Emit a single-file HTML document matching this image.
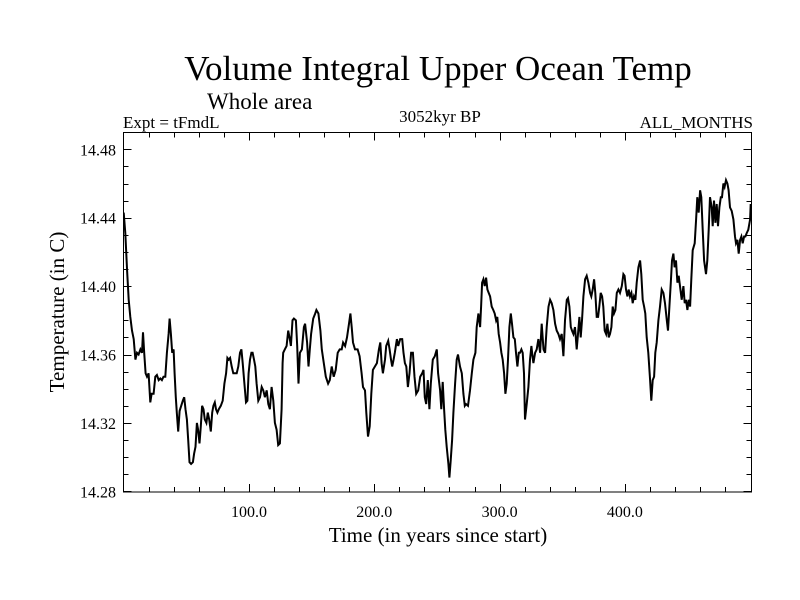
<!DOCTYPE html>
<html><head><meta charset="utf-8"><style>
body{margin:0;background:#fff;}
svg{display:block;font-family:"Liberation Serif",serif;}
</style></head><body>
<svg id="chart" width="800" height="600">
<text x="438" y="80" font-size="35" text-anchor="middle">Volume Integral Upper Ocean Temp</text>
<text x="207" y="109" font-size="23">Whole area</text>
<text x="123" y="128" font-size="17">Expt = tFmdL</text>
<text x="440" y="122" font-size="17" text-anchor="middle">3052kyr BP</text>
<text x="753" y="128" font-size="17" text-anchor="end">ALL_MONTHS</text>
<text x="438" y="542" font-size="21" text-anchor="middle">Time (in years since start)</text>
<text transform="translate(64,312) rotate(-90)" font-size="21" text-anchor="middle">Temperature (in C)</text>
<g id="ticks"></g>
<clipPath id="pc"><rect x="123.5" y="132.5" width="628" height="360"/></clipPath>
<path id="line" fill="none" stroke="#000" stroke-width="2" clip-path="url(#pc)"/>
<rect x="123.5" y="132.5" width="628" height="359.5" fill="none" stroke="#000" stroke-width="1"/>
</svg>
<script>
const years=[0.0,1.3,2.7,4.0,5.3,6.6,8.0,9.3,10.6,11.9,13.3,14.6,15.4,16.4,17.5,18.6,19.9,21.2,22.3,23.9,25.2,26.5,27.9,29.2,30.5,31.8,33.2,34.5,35.8,36.6,37.7,38.7,39.8,40.6,41.6,42.4,43.5,44.6,45.9,47.2,48.3,49.3,50.4,51.5,52.5,53.8,55.2,56.2,57.3,58.4,59.4,60.5,61.5,62.6,63.7,64.7,66.0,67.1,68.2,69.5,70.6,71.6,72.7,73.7,74.8,75.9,77.5,79.0,80.4,81.7,82.8,83.8,84.9,86.2,87.5,88.9,90.2,91.5,92.8,93.9,95.0,96.3,97.6,98.7,99.7,100.8,101.9,102.9,104.0,105.0,106.1,107.4,108.8,110.1,111.4,112.7,114.1,115.4,116.7,118.0,119.4,120.7,122.0,123.3,124.7,126.0,126.8,127.3,128.6,130.0,131.3,132.6,133.4,134.7,135.8,137.4,138.5,139.5,140.6,142.2,143.8,144.8,146.4,147.5,148.5,149.6,151.2,152.8,153.8,155.4,157.0,158.1,159.7,161.3,163.1,164.5,166.0,167.6,169.2,170.8,172.4,174.0,175.1,176.7,178.2,179.8,180.9,182.0,183.0,184.6,186.7,188.3,189.9,191.0,192.6,193.6,195.0,196.3,197.6,198.9,200.5,202.1,203.7,204.8,205.8,206.9,208.5,209.5,211.1,212.2,213.3,214.3,215.4,216.4,218.0,219.1,220.7,222.3,223.3,224.4,225.5,226.8,228.1,229.4,230.8,232.1,233.4,235.0,236.6,238.2,239.3,240.3,241.4,242.7,244.0,245.1,246.7,248.3,249.9,250.9,252.5,253.5,254.6,255.7,256.7,257.8,259.1,259.9,261.0,262.1,263.1,264.5,265.8,266.8,268.4,269.8,271.1,272.2,273.2,274.8,276.4,277.8,279.1,280.7,281.7,283.1,284.4,285.2,286.0,287.1,288.1,289.2,290.3,291.3,292.4,293.7,295.0,296.1,297.2,298.2,299.3,300.4,301.4,302.5,303.6,304.6,305.7,306.7,307.8,308.9,309.9,311.0,312.1,313.1,314.2,315.3,316.3,317.4,318.4,319.5,320.3,321.6,323.0,324.3,325.4,325.9,327.0,328.3,329.6,331.0,332.3,333.6,335.0,336.3,337.6,339.0,340.3,341.6,342.9,344.3,345.6,346.9,348.2,349.6,350.9,352.2,353.6,354.6,355.7,356.8,357.8,358.9,360.2,361.5,362.6,363.7,364.7,365.8,366.9,368.2,369.5,370.9,372.2,373.2,374.3,375.4,376.4,377.5,378.6,379.6,380.7,381.8,382.8,383.9,385.0,386.0,387.1,388.1,389.2,390.3,391.3,392.4,393.5,394.8,396.1,397.5,398.8,399.8,400.9,402.0,403.0,404.1,405.2,406.2,407.3,408.4,409.4,410.8,412.1,413.1,414.2,415.3,416.3,417.4,418.7,420.1,421.1,422.2,423.3,424.3,425.4,426.7,428.0,429.4,430.7,432.0,433.4,434.4,435.5,436.6,437.6,438.7,439.7,440.8,441.9,442.9,444.0,445.3,446.7,447.7,448.8,449.9,450.9,452.0,453.0,454.1,455.7,456.8,457.8,458.9,460.0,461.0,462.1,463.2,464.7,465.8,466.9,467.9,469.3,470.1,471.1,472.2,473.3,474.3,475.4,476.5,477.5,478.6,479.6,480.7,481.8,482.8,483.9,485.2,486.6,487.9,488.7,489.8,490.8,491.9,493.0,494.0,495.1,496.2,497.2,498.5,499.9,500.4,501.2];
const temps=[14.443,14.431,14.409,14.392,14.382,14.374,14.369,14.357,14.361,14.360,14.363,14.361,14.373,14.361,14.349,14.347,14.349,14.332,14.337,14.337,14.347,14.348,14.345,14.346,14.345,14.347,14.347,14.361,14.372,14.381,14.372,14.361,14.363,14.349,14.335,14.326,14.315,14.327,14.330,14.333,14.335,14.328,14.322,14.310,14.297,14.296,14.297,14.302,14.306,14.320,14.316,14.308,14.318,14.330,14.328,14.322,14.320,14.326,14.322,14.315,14.326,14.330,14.332,14.328,14.326,14.328,14.330,14.333,14.343,14.349,14.358,14.357,14.358,14.353,14.349,14.349,14.349,14.353,14.361,14.363,14.355,14.343,14.332,14.333,14.349,14.357,14.361,14.361,14.357,14.353,14.343,14.333,14.335,14.341,14.339,14.335,14.339,14.331,14.328,14.341,14.333,14.320,14.316,14.307,14.308,14.328,14.355,14.361,14.363,14.365,14.374,14.369,14.365,14.380,14.381,14.380,14.365,14.343,14.361,14.363,14.376,14.378,14.367,14.353,14.363,14.372,14.381,14.384,14.386,14.384,14.374,14.363,14.355,14.347,14.343,14.345,14.353,14.347,14.351,14.361,14.363,14.363,14.367,14.365,14.370,14.378,14.384,14.376,14.367,14.363,14.363,14.359,14.349,14.341,14.339,14.326,14.312,14.318,14.337,14.351,14.353,14.355,14.363,14.367,14.355,14.349,14.357,14.365,14.368,14.363,14.357,14.353,14.357,14.361,14.369,14.365,14.369,14.369,14.361,14.355,14.353,14.341,14.349,14.361,14.361,14.347,14.337,14.339,14.347,14.349,14.351,14.335,14.331,14.345,14.328,14.343,14.357,14.359,14.363,14.349,14.339,14.328,14.344,14.328,14.316,14.306,14.296,14.288,14.298,14.310,14.326,14.343,14.357,14.360,14.353,14.349,14.337,14.330,14.331,14.330,14.339,14.349,14.357,14.361,14.376,14.384,14.376,14.388,14.402,14.404,14.400,14.405,14.398,14.396,14.394,14.388,14.386,14.384,14.380,14.382,14.372,14.367,14.361,14.357,14.349,14.337,14.343,14.357,14.376,14.384,14.378,14.370,14.369,14.361,14.353,14.361,14.361,14.363,14.361,14.349,14.322,14.331,14.341,14.357,14.365,14.361,14.355,14.361,14.363,14.369,14.361,14.378,14.363,14.361,14.376,14.388,14.392,14.390,14.386,14.378,14.374,14.372,14.369,14.372,14.359,14.380,14.392,14.393,14.388,14.376,14.374,14.372,14.376,14.363,14.372,14.382,14.370,14.380,14.394,14.404,14.406,14.402,14.396,14.394,14.398,14.404,14.396,14.382,14.382,14.388,14.396,14.394,14.388,14.374,14.372,14.378,14.370,14.372,14.376,14.388,14.384,14.386,14.396,14.398,14.396,14.400,14.407,14.406,14.398,14.394,14.398,14.394,14.396,14.390,14.394,14.392,14.402,14.411,14.415,14.407,14.392,14.388,14.384,14.370,14.361,14.345,14.333,14.345,14.347,14.361,14.367,14.380,14.388,14.398,14.396,14.390,14.380,14.374,14.388,14.402,14.415,14.419,14.411,14.415,14.402,14.406,14.400,14.392,14.400,14.390,14.392,14.386,14.392,14.388,14.404,14.421,14.425,14.439,14.452,14.443,14.456,14.452,14.433,14.415,14.407,14.415,14.433,14.452,14.446,14.435,14.450,14.437,14.448,14.435,14.446,14.452,14.452,14.460,14.458,14.462,14.460,14.456,14.446,14.444,14.439,14.429,14.425,14.427,14.419,14.427,14.429,14.425,14.429,14.429,14.431,14.433,14.439,14.448,14.439];
const xTickLabels=["100.0","200.0","300.0","400.0"];
const xTickValues=[100,200,300,400];
const yTickLabels=["14.28","14.32","14.36","14.40","14.44","14.48"];
const yTickValues=[14.28,14.32,14.36,14.40,14.44,14.48];

const X0=123.7, XS=1.253, L=123.5, R=751.5, T=132.5, B=492;
const xs=v=>X0+v*XS;
const ys=v=>149.3+(14.48-v)*1710;
const NS="http://www.w3.org/2000/svg";
let d="";
for(let i=0;i<years.length;i++){d+=(i?"L":"M")+xs(years[i]).toFixed(1)+","+ys(temps[i]).toFixed(1);}
document.getElementById("line").setAttribute("d",d);
const g=document.getElementById("ticks");
function ln(x1,y1,x2,y2){const l=document.createElementNS(NS,"line");
l.setAttribute("x1",x1);l.setAttribute("y1",y1);l.setAttribute("x2",x2);l.setAttribute("y2",y2);
l.setAttribute("stroke","#000");l.setAttribute("stroke-width","1");


g.appendChild(l);}
function tx(x,y,s,anchor,name){const t=document.createElementNS(NS,"text");
t.setAttribute("x",x);t.setAttribute("y",y);t.setAttribute("font-size","16");t.setAttribute("text-anchor",anchor);t.textContent=s;


g.appendChild(t);}
for(let v=20;v<500;v+=20){const x=Math.round(xs(v))+0.5;const len=(v%100===0)?8:5;ln(x,B,x,B-len);ln(x,T,x,T+len);}
for(let k=0;k<=21;k++){const v=14.28+k*0.01;const y=Math.round(ys(v))+0.5;if(y<T||y>B)continue;const major=(k%4===0);const len=major?8:5;ln(L,y,L+len,y);ln(R,y,R-len,y);}
xTickValues.forEach((v,i)=>tx(xs(v),517,xTickLabels[i],"middle","x-tick-label"));
yTickValues.forEach((v,i)=>tx(116,ys(v)+6,yTickLabels[i],"end","y-tick-label"));
</script>
</body></html>
